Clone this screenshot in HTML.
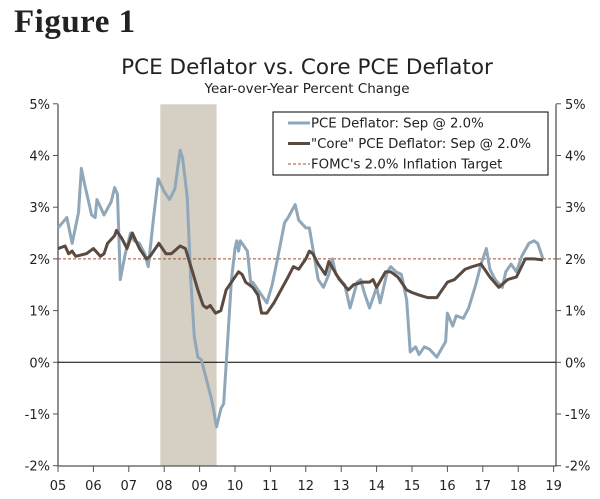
<!DOCTYPE html>
<html><head><meta charset="utf-8"><style>
html,body{margin:0;padding:0;background:#fff;width:600px;height:499px;overflow:hidden}
svg{display:block}
text{font-family:"DejaVu Sans","Liberation Sans",sans-serif;fill:#222}
</style></head><body>
<svg id="c" width="600" height="499" viewBox="0 0 600 499">
<text x="14" y="32" style="font-family:'Liberation Serif',serif;font-weight:bold;font-size:33px;letter-spacing:0.5px" fill="#111">Figure 1</text>
<text x="307" y="74" text-anchor="middle" style="font-size:21.5px">PCE Deflator vs. Core PCE Deflator</text>
<text x="307" y="93" text-anchor="middle" style="font-size:13.5px">Year-over-Year Percent Change</text>
<g id="plot"></g>
</svg>
<script>
const pceDates=[2005.0,2005.25,2005.4,2005.58,2005.66,2005.75,2005.95,2006.05,2006.1,2006.3,2006.5,2006.6,2006.68,2006.76,2006.9,2007.05,2007.15,2007.3,2007.45,2007.55,2007.7,2007.83,2008.0,2008.15,2008.3,2008.45,2008.52,2008.65,2008.75,2008.85,2008.95,2009.05,2009.2,2009.35,2009.48,2009.6,2009.68,2009.8,2009.9,2010.0,2010.05,2010.1,2010.15,2010.35,2010.45,2010.5,2010.7,2010.9,2011.05,2011.2,2011.4,2011.5,2011.7,2011.8,2012.0,2012.1,2012.2,2012.35,2012.5,2012.65,2012.75,2012.85,2013.1,2013.25,2013.45,2013.55,2013.65,2013.8,2014.0,2014.1,2014.3,2014.4,2014.55,2014.7,2014.85,2014.95,2015.1,2015.2,2015.35,2015.5,2015.7,2015.95,2016.0,2016.15,2016.25,2016.45,2016.6,2016.8,2016.95,2017.1,2017.2,2017.35,2017.55,2017.65,2017.8,2017.95,2018.1,2018.3,2018.45,2018.55,2018.7];
const pceValues=[2.6,2.8,2.3,2.9,3.75,3.45,2.85,2.8,3.15,2.85,3.1,3.38,3.25,1.6,2.1,2.5,2.35,2.3,2.1,1.85,2.8,3.55,3.3,3.15,3.35,4.1,3.95,3.2,1.6,0.5,0.1,0.05,-0.35,-0.75,-1.25,-0.9,-0.8,0.5,1.6,2.2,2.35,2.15,2.35,2.15,1.5,1.55,1.35,1.15,1.5,2.0,2.7,2.8,3.05,2.75,2.6,2.6,2.2,1.6,1.45,1.7,2.0,1.7,1.5,1.05,1.55,1.6,1.35,1.05,1.45,1.15,1.75,1.85,1.75,1.7,1.2,0.2,0.3,0.15,0.3,0.25,0.1,0.4,0.95,0.7,0.9,0.85,1.05,1.5,1.9,2.2,1.8,1.6,1.45,1.75,1.9,1.75,2.05,2.3,2.35,2.3,2.0];
const coreDates=[2005.0,2005.2,2005.3,2005.4,2005.5,2005.8,2006.0,2006.2,2006.3,2006.4,2006.6,2006.65,2006.8,2006.95,2007.1,2007.3,2007.5,2007.6,2007.75,2007.85,2008.05,2008.2,2008.45,2008.6,2008.8,2008.95,2009.1,2009.2,2009.3,2009.45,2009.6,2009.75,2009.95,2010.1,2010.2,2010.3,2010.5,2010.65,2010.75,2010.9,2011.1,2011.3,2011.5,2011.65,2011.8,2012.0,2012.1,2012.2,2012.35,2012.55,2012.65,2012.95,2013.2,2013.35,2013.6,2013.8,2013.9,2014.0,2014.25,2014.4,2014.6,2014.85,2015.0,2015.2,2015.45,2015.7,2016.0,2016.2,2016.5,2016.7,2016.95,2017.2,2017.45,2017.7,2017.95,2018.2,2018.45,2018.7];
const coreValues=[2.2,2.25,2.1,2.15,2.05,2.1,2.2,2.05,2.1,2.3,2.45,2.55,2.4,2.2,2.5,2.2,2.0,2.05,2.2,2.3,2.1,2.1,2.25,2.2,1.75,1.4,1.1,1.05,1.1,0.95,1.0,1.4,1.6,1.75,1.7,1.55,1.45,1.3,0.95,0.95,1.15,1.4,1.65,1.85,1.8,2.0,2.15,2.1,1.9,1.7,1.95,1.6,1.4,1.5,1.55,1.55,1.6,1.45,1.75,1.75,1.65,1.4,1.35,1.3,1.25,1.25,1.55,1.6,1.8,1.85,1.9,1.65,1.45,1.6,1.65,2.0,2.0,1.98];
const yTicks=[-2,-1,0,1,2,3,4,5];
const xTicks=[2005,2006,2007,2008,2009,2010,2011,2012,2013,2014,2015,2016,2017,2018,2019];
const target=2.0;
const recession=[2007.89,2009.48];

const NS='http://www.w3.org/2000/svg';
const L=58,R=556,T=104.3,B=466;
const x=t=>L+(t-2005)*35.4;
const y=v=>362.3-v*51.7;
const g=document.getElementById('plot');
function mk(tag,attrs,parent){const e=document.createElementNS(NS,tag);for(const k in attrs)e.setAttribute(k,attrs[k]);(parent||g).appendChild(e);return e;}

const rec=mk('rect',{x:x(recession[0]),y:T,width:x(recession[1])-x(recession[0]),height:B-T,fill:'#d6cfc3'});



const ax=mk('path',{d:`M${L},${T}V${B}H${R}V${T}`,stroke:'#555',fill:'none','stroke-width':1.3});


const zl=mk('line',{x1:L,x2:R,y1:y(0),y2:y(0),stroke:'#000','stroke-width':1});



yTicks.forEach(v=>{
  mk('line',{x1:L-5,x2:L,y1:y(v),y2:y(v),stroke:'#555'});
  mk('line',{x1:R,x2:R+5,y1:y(v),y2:y(v),stroke:'#555'});
  const a=mk('text',{x:L-8,y:y(v)+5,'text-anchor':'end','font-size':13});a.textContent=v+'%';
  
  
  const b=mk('text',{x:R+9,y:y(v)+5,'font-size':13});b.textContent=v+'%';
  
  
});
xTicks.forEach(t=>{
  mk('line',{x1:x(t),x2:x(t),y1:B,y2:B+6,stroke:'#555'});
  const a=mk('text',{x:x(t),y:B+24,'text-anchor':'middle','font-size':13});a.textContent=String(t%100).padStart(2,'0');
  
  
});

const tl=mk('line',{x1:L,x2:R,y1:y(target),y2:y(target),stroke:'#a0522d','stroke-dasharray':'3,2','stroke-width':1});



function line(d,v,col,w){return mk('polyline',{points:d.map((t,i)=>x(t)+','+y(v[i])).join(' '),fill:'none',stroke:col,'stroke-width':w,'stroke-linejoin':'round'});}
const p1=line(pceDates,pceValues,'#8fa7b8',3);


const p2=line(coreDates,coreValues,'#5a4a40',3);



const lg=mk('g',{});


mk('rect',{x:273,y:112,width:275,height:63,fill:'#fff',stroke:'#000','stroke-width':1},lg);
const items=[['PCE Deflator: Sep @ 2.0%','#8fa7b8',3,null],['"Core" PCE Deflator: Sep @ 2.0%','#5a4a40',3,null],["FOMC's 2.0% Inflation Target",'#a0522d',1,'3,2']];
items.forEach((it,i)=>{
  const yy=123+i*20.5;
  const ln=mk('line',{x1:288,x2:310,y1:yy,y2:yy,stroke:it[1],'stroke-width':it[2]},lg);
  if(it[3])ln.setAttribute('stroke-dasharray',it[3]);
  const t=mk('text',{x:311,y:yy+4.5,'font-size':13.3},lg);t.textContent=it[0];
  
  
});
</script>
</body></html>
